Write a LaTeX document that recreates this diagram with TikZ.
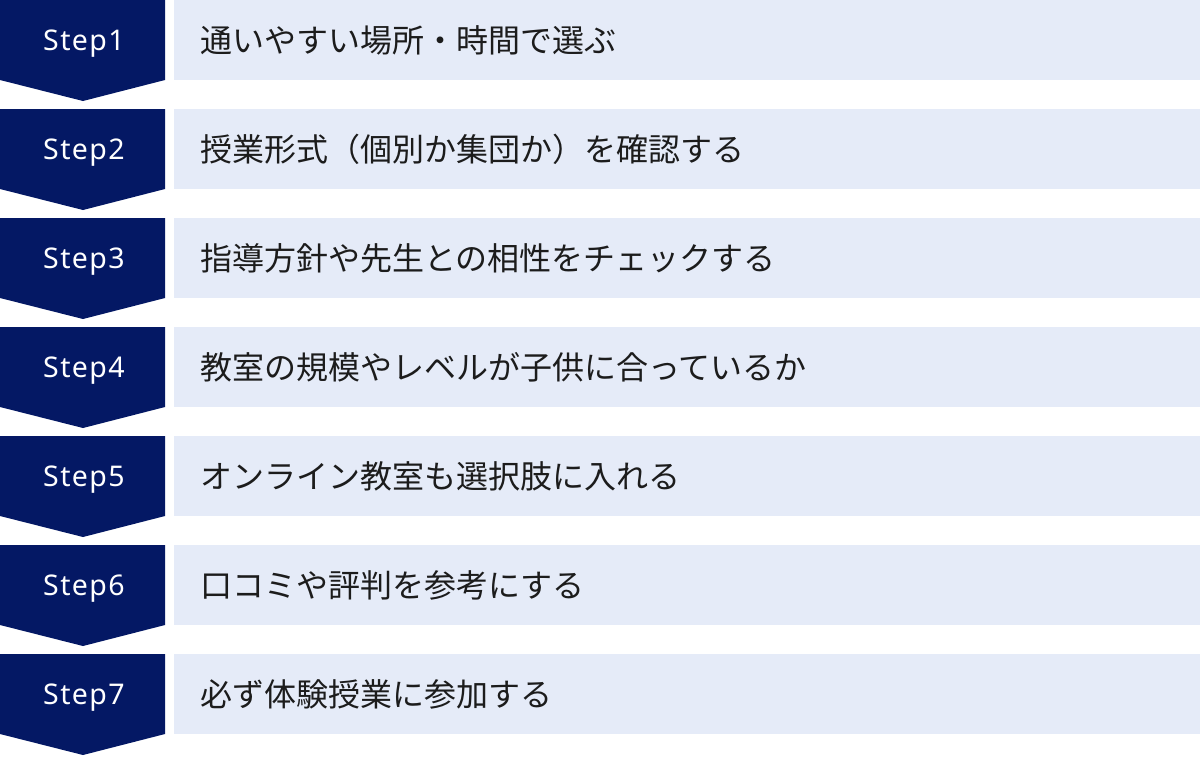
\documentclass[tikz,border=0pt]{standalone}
\usepackage{fontspec}
\setmainfont{Noto Sans}
\newfontfamily\jpfont{Noto Sans CJK JP}
\definecolor{stepnavy}{RGB}{4,24,100}
\definecolor{itembg}{RGB}{229,235,248}
\definecolor{itemink}{RGB}{28,28,28}

\begin{document}
\begin{tikzpicture}[x=1pt,y=-1pt,
    steplabel/.style={text=white,inner sep=0pt,anchor=base,
      font=\fontsize{28.5}{28.5}\selectfont\addfontfeatures{LetterSpace=5}},
    itemlabel/.style={text=itemink,inner sep=0pt,anchor=west,
      font=\jpfont\fontsize{32}{32}\selectfont}]
  \useasboundingbox (0,0) rectangle (1200,756);
  \foreach \n/\txt in {1/通いやすい場所・時間で選ぶ,
                       2/授業形式（個別か集団か）を確認する,
                       3/指導方針や先生との相性をチェックする,
                       4/教室の規模やレベルが子供に合っているか,
                       5/オンライン教室も選択肢に入れる,
                       6/口コミや評判を参考にする,
                       7/必ず体験授業に参加する} {
    \pgfmathsetmacro\rowy{109*(\n-1)}
    % navy chevron and light box
    \fill[stepnavy] (0,\rowy) -- ++(165,0) -- ++(0,80) -- ++(-82,21)
      -- ++(-83,-21) -- cycle;
    \fill[itembg] (174,\rowy) rectangle (1200,\rowy+80);
    \node[steplabel] (step\n) at (84,\rowy+50) {Step\n};
    \node[itemlabel] (item\n) at (200,\rowy+40) {\txt};
  }
\end{tikzpicture}
\end{document}
